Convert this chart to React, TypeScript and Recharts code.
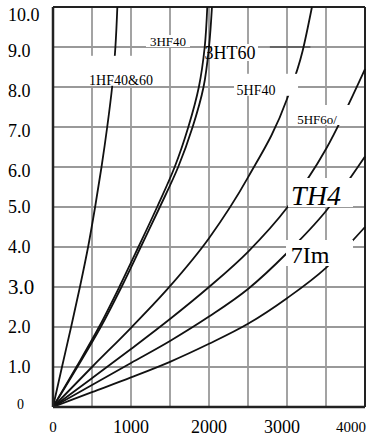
import React from 'react';
import { LineChart, Line, XAxis, YAxis, CartesianGrid, ReferenceLine, ReferenceDot } from 'recharts';

const yLevels = [0, 1, 2, 3, 4, 5, 6, 7, 8, 9, 10];
const hf1X = [0, 115, 232, 345, 450, 540, 622, 695, 758, 800, 825];
const hf3_40X = [0, 300, 590, 850, 1095, 1335, 1560, 1735, 1870, 1945, 1978];
const ht3_60X = [0, 312, 612, 878, 1125, 1370, 1605, 1790, 1930, 2000, 2038];

// y at the 500 gridlines
const xLevels = [0, 500, 1000, 1500, 2000, 2500, 3000, 3500, 4000];
const hf5_40X = [0, 500, 1000, 1500, 2000, 2500, 3000, 3200, 3320];
const hf5_40Y = [0, 1.0, 1.98, 3.02, 4.22, 5.74, 7.7, 8.9, 10];
const hf5_60Y = [0, 0.72, 1.45, 2.2, 3.0, 3.88, 4.98, 6.45, 8.45];
const th4Y = [0, 0.55, 1.1, 1.65, 2.26, 2.95, 3.85, 4.9, 6.26];
const im7Y = [0, 0.37, 0.74, 1.13, 1.58, 2.08, 2.72, 3.48, 4.5];

const xTicks = [0, 500, 1000, 1500, 2000, 2500, 3000, 3500, 4000];
const yTicks = [0, 1, 2, 3, 4, 5, 6, 7, 8, 9, 10];

const curveLabels = [
  { text: '1HF40&60', x: 872, y: 8.18 },
  { text: '3HF40', x: 1474, y: 9.15 },
  { text: '3HT60', x: 2269, y: 8.85 },
  { text: '5HF40', x: 2603, y: 7.93 },
  { text: '5HF6o/', x: 3385, y: 7.2 },
  { text: 'TH4', x: 3372, y: 5.3 },
  { text: '7Im', x: 3295, y: 3.8 },
];

const zip = (xs: number[], ys: number[]) => xs.map((x, i) => ({ x, y: ys[i] }));

// steep curves are interpolated along y, the flat ones along x
const curves = [
  { data: zip(hf1X, yLevels), type: 'monotoneY' },
  { data: zip(hf3_40X, yLevels), type: 'monotoneY' },
  { data: zip(ht3_60X, yLevels), type: 'monotoneY' },
  { data: zip(hf5_40X, hf5_40Y), type: 'monotoneX' },
  { data: zip(xLevels, hf5_60Y), type: 'monotoneX' },
  { data: zip(xLevels, th4Y), type: 'monotoneX' },
  { data: zip(xLevels, im7Y), type: 'monotoneX' },
];

const SERIF = "'Liberation Serif', 'Times New Roman', serif";

// font + white box (left, right, top, bottom around the text centre)
const labelStyle: Record<string, any> = {
  '1HF40&60': { size: 14, box: [-35, 35, -24, 6] },
  '3HF40': { size: 13, box: [-22, 22, -6, 6] },
  '3HT60': { size: 18, box: [-18, 28, -9, 8] },
  '5HF40': { size: 14, box: [-22, 42, -16, 6] },
  '5HF6o/': { size: 13, box: [-24, 37, -14, 6] },
  TH4: { size: 28, italic: true, box: [-28, 37, -17, 12] },
  '7Im': { size: 24, box: [-24, 43, -15, 11] },
};

const CurveLabel = ({ cx, cy, text }: any) => {
  const s = labelStyle[text];
  const [l, r, t, b] = s.box;
  return (
    <g>
      <rect x={cx + l} y={cy + t} width={r - l} height={b - t} fill="#fff" />
      <text
        x={cx}
        y={cy}
        dy="0.35em"
        textAnchor="middle"
        fontFamily={SERIF}
        fontSize={s.size}
        fontStyle={s.italic ? 'italic' : 'normal'}
        fill="#000"
      >
        {text}
      </text>
    </g>
  );
};

const XTick = ({ x, y, payload }: any) => {
  const v = payload.value;
  if (v % 1000 !== 0) return <g />;
  const size = v === 4000 || v === 0 ? 15 : 18;
  const dx = v === 4000 ? -14 : v === 3000 ? -5 : 0;
  return (
    <text x={x + dx} y={y + 20} dy="0.35em" textAnchor="middle" fontFamily={SERIF} fontSize={size} fill="#000">
      {v}
    </text>
  );
};

const YTick = ({ x, y, payload }: any) => {
  const v = payload.value;
  const text = v === 0 ? '0' : v.toFixed(1);
  const size = v === 0 ? 14 : v === 3 ? 21 : 18;
  const dy = v === 10 ? 8 : v >= 6 ? 4 : v === 0 ? -3 : 0;
  return (
    <text x={v === 0 ? x - 36 : x - 45} y={y + dy} dy="0.35em" textAnchor="start" fontFamily={SERIF} fontSize={size} fill="#000">
      {text}
    </text>
  );
};

const App = () => {
  return (
    <div style={{ position: 'absolute', left: 0, top: 0, background: '#fff' }}>
      <LineChart width={378} height={436} margin={{ top: 7, right: 13, bottom: 0, left: 0 }}>
        <CartesianGrid stroke="#999" strokeWidth={1.8} />
        <XAxis
          type="number"
          dataKey="x"
          domain={[0, 4000]}
          ticks={xTicks}
          interval={0}
          height={29}
          tickSize={0}
          tickMargin={0}
          tickLine={false}
          axisLine={{ stroke: '#222', strokeWidth: 2.5 }}
          tick={<XTick />}
        />
        <YAxis
          type="number"
          dataKey="y"
          domain={[0, 10]}
          ticks={yTicks}
          interval={0}
          width={53}
          tickSize={0}
          tickMargin={0}
          tickLine={false}
          axisLine={{ stroke: '#222', strokeWidth: 2.5 }}
          tick={<YTick />}
        />
        <ReferenceLine y={10} stroke="#222" strokeWidth={2} />
        <ReferenceLine x={4000} stroke="#222" strokeWidth={2} />
        <ReferenceLine segment={[{ x: 2780, y: 9 }, { x: 3300, y: 9 }]} stroke="#333" strokeWidth={1.2} />
        {curves.map((c, i) => (
          <Line
            key={i}
            data={c.data}
            dataKey="y"
            type={c.type as any}
            stroke="#111"
            strokeWidth={1.8}
            dot={false}
            activeDot={false}
            isAnimationActive={false}
          />
        ))}
        {curveLabels.map((l) => (
          <ReferenceDot
            key={l.text}
            x={l.x}
            y={l.y}
            r={1}
            zIndex={2000}
            shape={(p: any) => <CurveLabel cx={p.cx} cy={p.cy} text={l.text} />}
          />
        ))}
      </LineChart>
    </div>
  );
};

export default App;
